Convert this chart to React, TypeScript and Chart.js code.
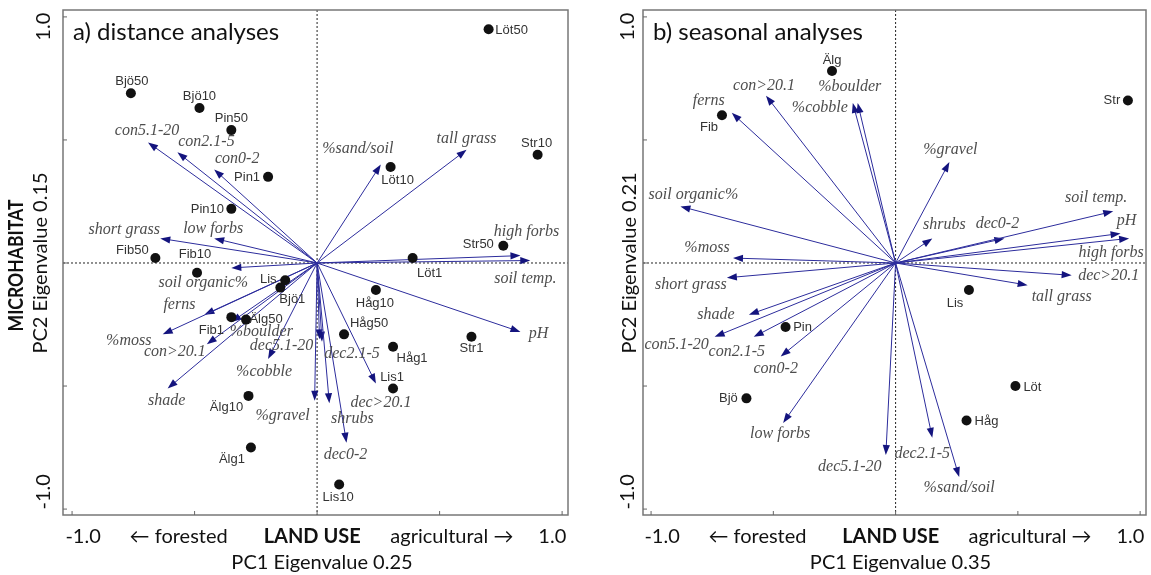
import React, { useEffect, useRef } from "react";
import { Chart, registerables } from "chart.js";

Chart.register(...registerables);

// ---------- Panel a: distance analyses ----------
const aTitle = "a) distance analyses";
const aYTitle = "PC2 Eigenvalue 0.15";
const aXTitle = "PC1 Eigenvalue 0.25";
const aSiteNames = ["Löt50", "Bjö50", "Bjö10", "Pin50", "Pin1", "Pin10", "Str10", "Löt10", "Str50", "Fib50", "Fib10", "Löt1", "Lis", "Bjö1", "Fib1", "Älg50", "Älg10", "Älg1", "Håg10", "Håg50", "Håg1", "Lis1", "Str1", "Lis10"];
const aSiteX = [0.70, -0.76, -0.48, -0.35, -0.20, -0.35, 0.90, 0.30, 0.76, -0.66, -0.49, 0.39, -0.13, -0.15, -0.35, -0.29, -0.28, -0.27, 0.24, 0.11, 0.31, 0.31, 0.63, 0.09];
const aSiteY = [0.95, 0.69, 0.63, 0.54, 0.35, 0.22, 0.44, 0.39, 0.07, 0.02, -0.04, 0.02, -0.07, -0.10, -0.22, -0.23, -0.54, -0.75, -0.11, -0.29, -0.34, -0.51, -0.30, -0.90];
const aVarNames = ["con5.1-20", "con2.1-5", "con0-2", "short grass", "low forbs", "%sand/soil", "tall grass", "high forbs", "soil temp.", "pH", "soil organic%", "ferns", "%moss", "con>20.1", "shade", "%boulder", "%cobble", "dec5.1-20", "dec2.1-5", "%gravel", "shrubs", "dec0-2", "dec>20.1"];
const aVarX = [-0.69, -0.57, -0.42, -0.64, -0.42, 0.26, 0.61, 0.83, 0.87, 0.83, -0.35, -0.46, -0.63, -0.45, -0.61, -0.35, -0.20, 0.01, 0.02, -0.01, 0.05, 0.12, 0.24];
const aVarY = [0.49, 0.45, 0.38, 0.10, 0.10, 0.40, 0.46, 0.03, 0.01, -0.28, -0.02, -0.21, -0.29, -0.33, -0.51, -0.24, -0.39, -0.31, -0.32, -0.56, -0.57, -0.73, -0.49];

// ---------- Panel b: seasonal analyses ----------
const bTitle = "b) seasonal analyses";
const bYTitle = "PC2 Eigenvalue 0.21";
const bXTitle = "PC1 Eigenvalue 0.35";
const bSiteNames = ["Älg", "Fib", "Str", "Pin", "Bjö", "Lis", "Löt", "Håg"];
const bSiteX = [-0.26, -0.71, 0.95, -0.45, -0.61, 0.30, 0.49, 0.29];
const bSiteY = [0.78, 0.60, 0.66, -0.26, -0.55, -0.11, -0.50, -0.64];
const bVarNames = ["con>20.1", "ferns", "%boulder", "%cobble", "soil organic%", "%moss", "short grass", "shade", "con5.1-20", "con2.1-5", "con0-2", "low forbs", "dec5.1-20", "dec2.1-5", "%sand/soil", "dec>20.1", "tall grass", "%gravel", "shrubs", "dec0-2", "soil temp.", "pH", "high forbs"];
const bVarX = [-0.53, -0.67, -0.155, -0.175, -0.88, -0.665, -0.69, -0.60, -0.74, -0.58, -0.47, -0.46, -0.04, 0.15, 0.26, 0.72, 0.54, 0.22, 0.15, 0.445, 0.89, 0.92, 0.955];
const bVarY = [0.68, 0.61, 0.65, 0.65, 0.23, 0.02, -0.06, -0.21, -0.30, -0.30, -0.38, -0.65, -0.78, -0.71, -0.87, -0.05, -0.09, 0.41, 0.10, 0.10, 0.21, 0.12, 0.10];

// shared axis texts
const tickValues = [-1, -0.5, 0, 0.5, 1];
const xAxisWords = ["-1.0", "\u2190 forested", "LAND USE", "agricultural \u2192", "1.0"];
const xAxisWordPos = [-0.955, -0.565, -0.02, 0.55, 0.96];
const yBoldTitle = "MICROHABITAT";

// ---------- label placement (pixels, relative to mark) ----------
const aSiteOff = [[23, 1], [1, -12], [0, -12], [0, -12], [-21, 1], [-24, 1], [-1, -11], [7, 13], [-25, -1], [-23, -8], [-2, -18], [17, 15], [-17, -1], [12, 12], [-20, 13], [20, 0], [-22, 12], [-19, 12], [-1, 13], [25, -11], [19, 12], [-1, -11], [0, 12], [-1, 13]];
const aVarOff = [[-1, -12], [29, -10], [23, -11], [-36, -9], [-1, -10], [-23, -16], [0, -11], [6, -24], [-5, 18], [18, 2], [-28, 15], [-25, -10], [-34, 6], [-32, 8], [-1, 12], [30, 10], [-4, 13], [-38, 7], [30, 12], [-32, 15], [23, 16], [-1, 12], [5, 19]];
const bSiteOff = [[0, -11], [-13, 12], [-16, 0], [17, 0], [-18, 0], [-14, 13], [17, 1], [20, 1]];
const bVarOff = [[-2, -10], [-23, -12], [-8, -16], [-33, 5], [13, -12], [-26, -10], [-36, 7], [-33, 0], [-38, 8], [-17, 15], [-5, 12], [-3, 11], [-36, 12], [-10, 16], [0, 11], [37, 0], [34, 12], [1, -12], [12, -14], [-7, -15], [-17, -14], [6, -13], [-18, 14]];

const ARROW = "#2c2c9c";
const ARROW_HEAD = "#14147e";
const SANS = 'Lato, "Open Sans", sans-serif';

type Panel = {
  title: string; yTitle: string; xTitle: string; bold: boolean;
  siteNames: string[]; siteX: number[]; siteY: number[]; siteOff: number[][];
  varNames: string[]; varX: number[]; varY: number[]; varOff: number[][];
  xMin: number; xMax: number; yMin: number; yMax: number;
  width: number; left: number;
  pad: { left: number; right: number; top: number; bottom: number };
  yTitleDx: number; boldDx: number; yTickDx: number;
};

function makePlugin(p: Panel) {
  return {
    id: "biplot",
    beforeDatasetsDraw(chart: any) {
      const { ctx, chartArea: a, scales } = chart;
      const x = scales.x, y = scales.y;
      const x0 = x.getPixelForValue(0), y0 = y.getPixelForValue(0);
      ctx.save();
      ctx.strokeStyle = "#222";
      ctx.lineWidth = 1;
      ctx.setLineDash([2, 2]);
      ctx.beginPath();
      ctx.moveTo(x0, a.top); ctx.lineTo(x0, a.bottom);
      ctx.moveTo(a.left, y0); ctx.lineTo(a.right, y0);
      ctx.stroke();
      ctx.setLineDash([]);
      p.varNames.forEach((_, i) => {
        const tx = x.getPixelForValue(p.varX[i]);
        const ty = y.getPixelForValue(p.varY[i]);
        const ang = Math.atan2(ty - y0, tx - x0);
        const c = Math.cos(ang), s = Math.sin(ang);
        const L = 10, W = 3.6;
        ctx.strokeStyle = ARROW;
        ctx.lineWidth = 1;
        ctx.beginPath();
        ctx.moveTo(x0, y0);
        ctx.lineTo(tx - c * 4, ty - s * 4);
        ctx.stroke();
        ctx.fillStyle = ARROW_HEAD;
        ctx.beginPath();
        ctx.moveTo(tx, ty);
        ctx.lineTo(tx - L * c + W * s, ty - L * s - W * c);
        ctx.lineTo(tx - L * c - W * s, ty - L * s + W * c);
        ctx.closePath();
        ctx.fill();
      });
      ctx.restore();
    },
    afterDatasetsDraw(chart: any) {
      const { ctx, chartArea: a, scales } = chart;
      const x = scales.x, y = scales.y;
      const y0 = y.getPixelForValue(0);
      ctx.save();
      ctx.textAlign = "center";
      ctx.textBaseline = "middle";
      // variable labels
      ctx.font = 'italic 16px "Liberation Serif", "DejaVu Serif", serif';
      ctx.fillStyle = "#4d4d4d";
      p.varNames.forEach((n, i) => {
        const tx = x.getPixelForValue(p.varX[i]);
        const ty = y.getPixelForValue(p.varY[i]);
        ctx.fillText(n, tx + p.varOff[i][0], ty + p.varOff[i][1]);
      });
      // site labels
      ctx.font = '13px "Liberation Sans", Arial, sans-serif';
      ctx.fillStyle = "#333";
      p.siteNames.forEach((n, i) => {
        const tx = x.getPixelForValue(p.siteX[i]);
        const ty = y.getPixelForValue(p.siteY[i]);
        ctx.fillText(n, tx + p.siteOff[i][0], ty + p.siteOff[i][1]);
      });
      // frame
      ctx.strokeStyle = "#777";
      ctx.lineWidth = 1.5;
      ctx.strokeRect(a.left, a.top, a.right - a.left, a.bottom - a.top);
      // ticks
      ctx.strokeStyle = "#666";
      ctx.lineWidth = 1;
      ctx.beginPath();
      tickValues.forEach((v) => {
        const px = x.getPixelForValue(v);
        ctx.moveTo(px, a.bottom); ctx.lineTo(px, a.bottom - 4);
        const py = y.getPixelForValue(v);
        ctx.moveTo(a.left, py); ctx.lineTo(a.left + 4, py);
      });
      ctx.stroke();
      // title
      ctx.fillStyle = "#111";
      ctx.textAlign = "left";
      ctx.textBaseline = "alphabetic";
      ctx.font = `24px ${SANS}`;
      ctx.fillText(p.title, a.left + 10, a.top + 30);
      // x axis words
      ctx.textAlign = "center";
      ctx.textBaseline = "middle";
      xAxisWords.forEach((w, i) => {
        const isBold = w === "LAND USE";
        ctx.font = isBold ? `bold 20px ${SANS}` : `20px ${SANS}`;
        if (isBold) ctx.fillText(w, x.getPixelForValue(xAxisWordPos[i]), a.bottom + 22, 97);
        else ctx.fillText(w, x.getPixelForValue(xAxisWordPos[i]), a.bottom + 22);
      });
      ctx.font = `20px ${SANS}`;
      ctx.fillText(p.xTitle, x.getPixelForValue(0.02), a.bottom + 48);
      // y axis texts (rotated)
      const rot = (t: string, px: number, py: number, font: string, maxW?: number) => {
        ctx.save();
        ctx.translate(px, py);
        ctx.rotate(-Math.PI / 2);
        ctx.font = font;
        if (maxW) ctx.fillText(t, 0, 0, maxW);
        else ctx.fillText(t, 0, 0);
        ctx.restore();
      };
      rot("1.0", a.left + p.yTickDx, y.getPixelForValue(0.96), `20px ${SANS}`);
      rot("-1.0", a.left + p.yTickDx, y.getPixelForValue(-0.93), `20px ${SANS}`);
      rot(p.yTitle, a.left + p.yTitleDx, y0, `20px ${SANS}`);
      if (p.bold) rot(yBoldTitle, a.left + p.boldDx, y.getPixelForValue(-0.01), `bold 20px ${SANS}`, 132);
      ctx.restore();
    },
  };
}

const panels: Panel[] = [
  {
    title: aTitle, yTitle: aYTitle, xTitle: aXTitle, bold: true,
    siteNames: aSiteNames, siteX: aSiteX, siteY: aSiteY, siteOff: aSiteOff,
    varNames: aVarNames, varX: aVarX, varY: aVarY, varOff: aVarOff,
    xMin: -1.037, xMax: 1.024, yMin: -1.024, yMax: 1.028,
    width: 590, left: 0,
    pad: { left: 63, right: 22, top: 10, bottom: 60 },
    yTitleDx: -22, boldDx: -46, yTickDx: -19,
  },
  {
    title: bTitle, yTitle: bYTitle, xTitle: bXTitle, bold: false,
    siteNames: bSiteNames, siteX: bSiteX, siteY: bSiteY, siteOff: bSiteOff,
    varNames: bVarNames, varX: bVarX, varY: bVarY, varOff: bVarOff,
    xMin: -1.033, xMax: 1.024, yMin: -1.024, yMax: 1.028,
    width: 561, left: 590,
    pad: { left: 53, right: 4, top: 10, bottom: 60 },
    yTitleDx: -13, boldDx: -40, yTickDx: -15,
  },
];

function BiplotPanel({ p }: { p: Panel }) {
  const ref = useRef<HTMLCanvasElement | null>(null);
  useEffect(() => {
    if (!ref.current) return;
    const chart = new Chart(ref.current, {
      type: "scatter",
      data: {
        datasets: [
          {
            data: p.siteNames.map((_, i) => ({ x: p.siteX[i], y: p.siteY[i] })),
            pointRadius: 5,
            pointHoverRadius: 5,
            backgroundColor: "#111",
            borderColor: "#111",
            borderWidth: 0,
          },
        ],
      },
      options: {
        animation: false,
        responsive: false,
        devicePixelRatio: 1,
        layout: { padding: p.pad },
        plugins: { legend: { display: false }, tooltip: { enabled: false }, title: { display: false } },
        events: [],
        scales: {
          x: { type: "linear", min: p.xMin, max: p.xMax, display: false },
          y: { type: "linear", min: p.yMin, max: p.yMax, display: false },
        },
      },
      plugins: [makePlugin(p)],
    } as any);
    return () => chart.destroy();
  }, [p]);
  return (
    <canvas
      ref={ref}
      width={p.width}
      height={575}
      style={{ position: "absolute", left: p.left, top: 0, width: p.width, height: 575 }}
    />
  );
}

export default function App() {
  return (
    <div style={{ position: "absolute", left: 0, top: 0, width: 1151, height: 575, background: "#fff", overflow: "hidden" }}>
      {panels.map((p, i) => (
        <BiplotPanel key={i} p={p} />
      ))}
    </div>
  );
}
